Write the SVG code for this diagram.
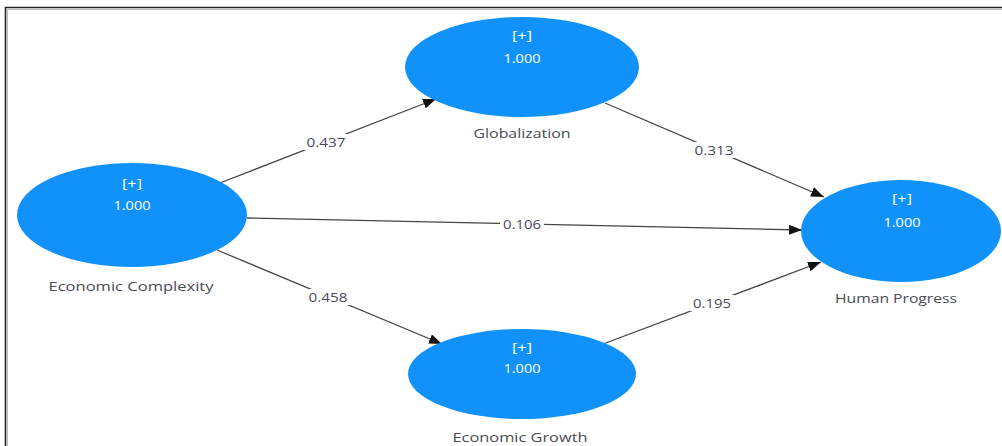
<svg xmlns="http://www.w3.org/2000/svg" width="1002" height="446" viewBox="0 0 1002 446">
<style>
.node ellipse{fill:#1192fb;}
.inner{font-family:"Open Sans","Liberation Sans",sans-serif;font-size:12.5px;fill:#ffffff;text-anchor:middle;dominant-baseline:central;}
.lbl{font-family:"Open Sans","Liberation Sans",sans-serif;font-size:13.5px;fill:#4a4a52;text-anchor:middle;dominant-baseline:central;}
.edge{stroke:#454545;stroke-width:1.3;fill:none;marker-end:url(#arr);}
.elbl{font-family:"Open Sans","Liberation Sans",sans-serif;font-size:13.5px;fill:#4a4a5a;text-anchor:middle;dominant-baseline:central;}
.bg{fill:#ffffff;}
</style>
<defs>
<marker id="arr" viewBox="0 0 13 10" refX="13" refY="5" markerWidth="13" markerHeight="10" markerUnits="userSpaceOnUse" orient="auto">
<path d="M0,0 L13,5 L0,10 Z" fill="#111111"/>
</marker>
</defs>
<rect x="0" y="0" width="1002" height="446" fill="#ffffff"/>
<path d="M5.5,446 V7.5 H1002" fill="none" stroke="#222222" stroke-width="1.6"/>
<path d="M7.5,446 V9.5 H1002" fill="none" stroke="#bbbbbb" stroke-width="1"/>
<g id="connectors">
<line class="edge" x1="220" y1="183" x2="436" y2="99"/>
<line class="edge" x1="605" y1="103" x2="824" y2="197"/>
<line class="edge" x1="247" y1="218" x2="802" y2="230"/>
<line class="edge" x1="217" y1="250" x2="442" y2="344"/>
<line class="edge" x1="603" y1="344" x2="821" y2="262"/>
<rect class="bg" x="304" y="134" width="44" height="16"/>
<text class="elbl" x="326" y="142" textLength="39" lengthAdjust="spacingAndGlyphs">0.437</text>
<rect class="bg" x="692" y="142" width="44" height="16"/>
<text class="elbl" x="714" y="150" textLength="39" lengthAdjust="spacingAndGlyphs">0.313</text>
<rect class="bg" x="500" y="216" width="44" height="16"/>
<text class="elbl" x="522" y="224" textLength="38" lengthAdjust="spacingAndGlyphs">0.106</text>
<rect class="bg" x="306" y="289" width="44" height="16"/>
<text class="elbl" x="328" y="297" textLength="39" lengthAdjust="spacingAndGlyphs">0.458</text>
<rect class="bg" x="690" y="295" width="44" height="16"/>
<text class="elbl" x="712" y="303" textLength="38" lengthAdjust="spacingAndGlyphs">0.195</text>
</g>
<g id="globalization" class="node">
<ellipse cx="522" cy="67" rx="117" ry="50"/>
<text class="inner" x="522" y="35" textLength="20" lengthAdjust="spacingAndGlyphs">[+]</text>
<text class="inner" x="522" y="58" textLength="37" lengthAdjust="spacingAndGlyphs">1.000</text>
<text class="lbl" x="522" y="133" textLength="97" lengthAdjust="spacingAndGlyphs">Globalization</text>
</g>
<g id="economic-complexity" class="node">
<ellipse cx="132" cy="215" rx="115" ry="52"/>
<text class="inner" x="132" y="183" textLength="20" lengthAdjust="spacingAndGlyphs">[+]</text>
<text class="inner" x="132" y="205" textLength="37" lengthAdjust="spacingAndGlyphs">1.000</text>
<text class="lbl" x="131" y="286" textLength="165" lengthAdjust="spacingAndGlyphs">Economic Complexity</text>
</g>
<g id="human-progress" class="node">
<ellipse cx="901" cy="231" rx="100" ry="51"/>
<text class="inner" x="902" y="198" textLength="20" lengthAdjust="spacingAndGlyphs">[+]</text>
<text class="inner" x="902" y="222" textLength="37" lengthAdjust="spacingAndGlyphs">1.000</text>
<text class="lbl" x="896" y="298" textLength="122" lengthAdjust="spacingAndGlyphs">Human Progress</text>
</g>
<g id="economic-growth" class="node">
<ellipse cx="522" cy="374" rx="114" ry="45"/>
<text class="inner" x="522" y="347" textLength="20" lengthAdjust="spacingAndGlyphs">[+]</text>
<text class="inner" x="522" y="368" textLength="37" lengthAdjust="spacingAndGlyphs">1.000</text>
<text class="lbl" x="520" y="437" textLength="135" lengthAdjust="spacingAndGlyphs">Economic Growth</text>
</g>
</svg>
